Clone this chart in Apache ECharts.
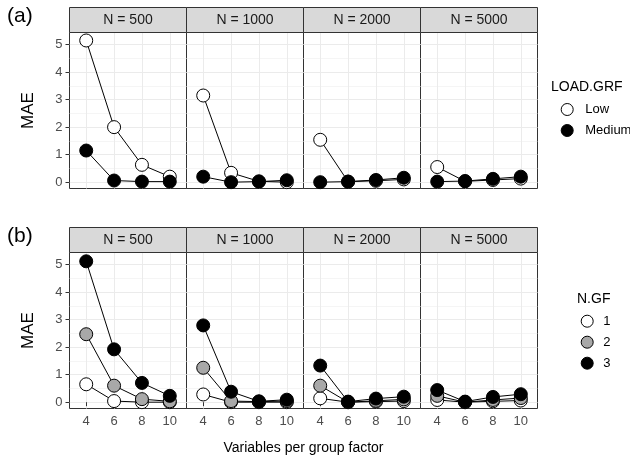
<!DOCTYPE html>
<html><head><meta charset="utf-8">
<script src="https://cdn.jsdelivr.net/npm/echarts@6/dist/echarts.min.js"></script>
<style>html,body{margin:0;padding:0;background:#fff}#c{width:630px;height:460px}</style>
</head><body><div id="c"></div>
<script>
// ---------- data ----------
const xValues = [4, 6, 8, 10];
const xTickLabels = ['4', '6', '8', '10'];
const yTicks = [0, 1, 2, 3, 4, 5];
const yMinorTicks = [0.5, 1.5, 2.5, 3.5, 4.5];
const panelLabels = ['N = 500', 'N = 1000', 'N = 2000', 'N = 5000'];

// Panel (a): LOAD.GRF, one row per N panel, values at x = 4, 6, 8, 10
const loadLow = [
  [5.15, 2.00, 0.63, 0.20],
  [3.15, 0.34, 0.03, 0.00],
  [1.54, 0.02, 0.05, 0.10],
  [0.55, 0.03, 0.08, 0.13]
];
const loadMedium = [
  [1.15, 0.06, 0.02, 0.02],
  [0.20, 0.00, 0.02, 0.07],
  [0.00, 0.02, 0.08, 0.16],
  [0.02, 0.04, 0.12, 0.20]
];
// Panel (b): N.GF
const gf1 = [
  [0.65, 0.04, 0.00, 0.00],
  [0.28, 0.00, 0.00, 0.00],
  [0.14, 0.00, 0.02, 0.04],
  [0.08, 0.00, 0.03, 0.06]
];
const gf2 = [
  [2.47, 0.60, 0.11, 0.03],
  [1.25, 0.04, 0.02, 0.04],
  [0.60, 0.00, 0.05, 0.10],
  [0.23, 0.00, 0.08, 0.15]
];
const gf3 = [
  [5.12, 1.92, 0.70, 0.23],
  [2.79, 0.38, 0.03, 0.09],
  [1.33, 0.02, 0.13, 0.20],
  [0.44, 0.02, 0.19, 0.29]
];

// ---------- layout / style ----------
const FONT = '"Liberation Sans", Arial, Helvetica, sans-serif';
const panelLeft = 69.5, panelW = 117, panelH = 156, stripH = 25;
const rows = [
  { top: 32.5, tag: '(a)', groups: [
      { name: 'Low', fill: '#FFFFFF', values: loadLow },
      { name: 'Medium', fill: '#000000', values: loadMedium } ] },
  { top: 252.5, tag: '(b)', groups: [
      { name: '1', fill: '#FFFFFF', values: gf1 },
      { name: '2', fill: '#A8A8A8', values: gf2 },
      { name: '3', fill: '#000000', values: gf3 } ] }
];
const yMin = -0.23, yMax = 5.44;

const grids = [], xAxes = [], yAxes = [], series = [], graphics = [];

rows.forEach((row, r) => {
  for (let c = 0; c < 4; c++) {
    const g = grids.length;
    const left = panelLeft + c * panelW;
    grids.push({ left: left, top: row.top, width: panelW, height: panelH,
      show: true, borderColor: '#333333', borderWidth: 1, backgroundColor: 'transparent',
      containLabel: false, outerBoundsMode: 'none' });
    xAxes.push({ type: 'value', gridIndex: g, min: 2.8, max: 11.2,
      axisLine: { show: false },
      axisTick: { show: r === 1, customValues: xValues, length: 4, lineStyle: { color: '#333333', width: 1 } },
      axisLabel: { show: r === 1, customValues: xValues,
        formatter: v => xTickLabels[xValues.indexOf(v)],
        color: '#4D4D4D', fontSize: 13, fontFamily: FONT, margin: 6 },
      splitLine: { show: true, lineStyle: { color: '#EBEBEB', width: 1 } } });
    yAxes.push({ type: 'value', gridIndex: g, min: yMin, max: yMax,
      axisLine: { show: false },
      axisTick: { show: c === 0, customValues: yTicks, length: 4, lineStyle: { color: '#333333', width: 1 } },
      axisLabel: { show: c === 0, customValues: yTicks, color: '#4D4D4D', fontSize: 13, fontFamily: FONT, margin: 7 },
      splitLine: { show: true, lineStyle: { color: '#EBEBEB', width: 1 } } });
    yAxes.push({ type: 'value', gridIndex: g, min: yMin, max: yMax, position: 'left',
      axisLine: { show: false },
      axisTick: { show: false, customValues: yMinorTicks },
      axisLabel: { show: false, customValues: yMinorTicks },
      splitLine: { show: true, lineStyle: { color: '#EFEFEF', width: 0.6 } } });

    row.groups.forEach(grp => {
      const pts = xValues.map((x, i) => [x, grp.values[c][i]]);
      series.push({ type: 'line', xAxisIndex: g, yAxisIndex: 2 * g, data: pts,
        showSymbol: false, symbol: 'none', lineStyle: { color: '#000000', width: 1 },
        z: 2, silent: true, animation: false });
    });
    row.groups.forEach(grp => {
      const pts = xValues.map((x, i) => [x, grp.values[c][i]]);
      series.push({ type: 'scatter', name: grp.name, xAxisIndex: g, yAxisIndex: 2 * g, data: pts,
        symbol: 'circle', symbolSize: 13,
        itemStyle: { color: grp.fill, borderColor: '#000000', borderWidth: 1, opacity: 1 },
        z: 3, silent: true, animation: false });
    });

    // strip
    graphics.push({ type: 'rect', shape: { x: left, y: row.top - stripH, width: panelW, height: stripH },
      style: { fill: '#D9D9D9', stroke: '#333333', lineWidth: 1 }, z: 10 });
    graphics.push({ type: 'text', x: left + panelW / 2, y: row.top - stripH / 2 + 0.5,
      style: { text: panelLabels[c], fill: '#1A1A1A', font: '14px ' + FONT, textAlign: 'center', textVerticalAlign: 'middle' }, z: 11 });
  }
  // row tag and y title
  graphics.push({ type: 'text', x: 7, y: row.top - 16,
    style: { text: row.tag, fill: '#000000', font: '21px ' + FONT, textAlign: 'left', textVerticalAlign: 'middle' } });
  graphics.push({ type: 'text', x: 28, y: row.top + panelH / 2, rotation: Math.PI / 2,
    style: { text: 'MAE', fill: '#000000', font: '17px ' + FONT, textAlign: 'center', textVerticalAlign: 'middle' } });
});

// x title
graphics.push({ type: 'text', x: panelLeft + 2 * panelW, y: 448,
  style: { text: 'Variables per group factor', fill: '#000000', font: '14px ' + FONT, textAlign: 'center', textVerticalAlign: 'middle' } });
// legend titles
graphics.push({ type: 'text', x: 551, y: 87,
  style: { text: 'LOAD.GRF', fill: '#000000', font: '14px ' + FONT, textAlign: 'left', textVerticalAlign: 'middle' } });
graphics.push({ type: 'text', x: 577, y: 299,
  style: { text: 'N.GF', fill: '#000000', font: '14px ' + FONT, textAlign: 'left', textVerticalAlign: 'middle' } });

const legendCommon = { orient: 'vertical', itemWidth: 12, itemHeight: 12, itemGap: 8, icon: 'circle',
  selectedMode: false, itemStyle: { borderColor: '#000000', borderWidth: 1 } };

const chart = echarts.init(document.getElementById('c'), null, { renderer: 'canvas' });
chart.setOption({
  animation: false,
  backgroundColor: '#FFFFFF',
  textStyle: { fontFamily: FONT },
  grid: grids, xAxis: xAxes, yAxis: yAxes, series: series,
  legend: [
    Object.assign({}, legendCommon, { data: ['Low', 'Medium'], left: 555.7, top: 98,
      textStyle: { fontSize: 13, color: '#000000', fontFamily: FONT, padding: [0, 0, 0, 7] } }),
    Object.assign({}, legendCommon, { data: ['1', '2', '3'], left: 575.7, top: 309.7,
      textStyle: { fontSize: 13, color: '#000000', fontFamily: FONT, padding: [0, 0, 0, 5] } })
  ],
  graphic: graphics
});
</script></body></html>
